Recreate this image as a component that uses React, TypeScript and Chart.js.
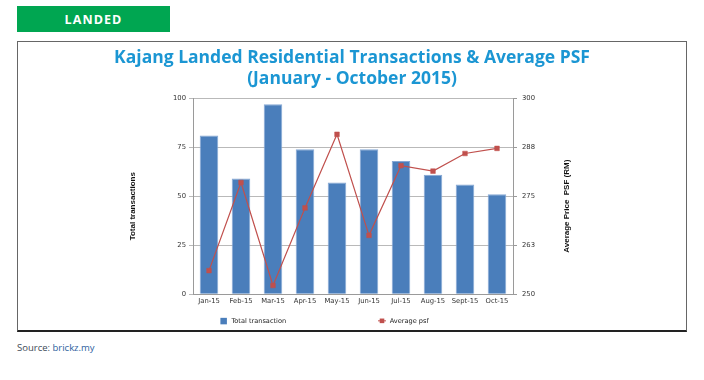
import React, { useEffect, useRef } from 'react';
import { Chart, registerables } from 'chart.js';

Chart.register(...registerables);

const categories = ['Jan-15', 'Feb-15', 'Mar-15', 'Apr-15', 'May-15', 'Jun-15', 'Jul-15', 'Aug-15', 'Sept-15', 'Oct-15'];
const totalTransactions = [81, 59, 97, 74, 57, 74, 68, 61, 56, 51];
const averagePsf = [256.0, 278.5, 252.2, 272.0, 290.8, 265.0, 282.8, 281.4, 285.9, 287.2];
const leftAxisRange = [0, 100, 25];
const rightAxisRange = [250, 300, 12.5];
const titleLines = ['Kajang Landed Residential Transactions & Average PSF', '(January - October 2015)'];
const leftAxisTitle = 'Total transactions';
const rightAxisTitle = 'Average Price  PSF (RM)';
const seriesLabels = ['Total transaction', 'Average psf'];

const BAR_COLOR = '#4a7ebb';
const LINE_COLOR = '#c0504d';
const TICK_FONT = { family: '"DejaVu Sans", Verdana, sans-serif', size: 6.8 };

const overlayPlugin = {
  id: 'overlay',
  afterDraw(chart: any) {
    const { ctx, chartArea } = chart;
    const { left, right, top, bottom } = chartArea;
    const cy = (top + bottom) / 2 + 10;
    ctx.save();
    ctx.fillStyle = '#111';
    ctx.font = 'bold 8px "Liberation Sans", Arial, sans-serif';
    ctx.textAlign = 'center';
    ctx.textBaseline = 'middle';
    ctx.save();
    ctx.translate(left - 60, cy);
    ctx.rotate(-Math.PI / 2);
    ctx.fillText(leftAxisTitle, 0, 0);
    ctx.restore();
    ctx.save();
    ctx.translate(right + 53.5, cy);
    ctx.rotate(-Math.PI / 2);
    ctx.fillText(rightAxisTitle, 0, 0);
    ctx.restore();

    // legend
    const ly = bottom + 26.7;
    const ds = chart.data.datasets;
    ctx.font = '6.6px "DejaVu Sans", Verdana, sans-serif';
    ctx.textAlign = 'left';
    ctx.fillStyle = ds[0].backgroundColor;
    ctx.fillRect(left + 27.4, ly - 3, 6.5, 6.5);
    ctx.fillStyle = '#222';
    ctx.fillText(ds[0].label, left + 38.4, ly + 0.5);
    const mx = left + 189;
    ctx.strokeStyle = ds[1].borderColor;
    ctx.lineWidth = 1;
    ctx.beginPath();
    ctx.moveTo(mx - 4, ly);
    ctx.lineTo(mx + 4, ly);
    ctx.stroke();
    ctx.fillStyle = ds[1].pointBackgroundColor;
    ctx.fillRect(mx - 2.3, ly - 2.3, 4.6, 4.6);
    ctx.fillStyle = '#222';
    ctx.fillText(ds[1].label, left + 196.7, ly + 0.5);
    ctx.restore();
  },
};

function ChartCanvas() {
  const ref = useRef<HTMLCanvasElement | null>(null);
  useEffect(() => {
    if (!ref.current) return;
    const chart = new Chart(ref.current, {
      type: 'bar',
      data: {
        labels: categories,
        datasets: [
          {
            type: 'bar',
            label: seriesLabels[0],
            data: totalTransactions,
            backgroundColor: BAR_COLOR,
            borderColor: '#86a8d4',
            borderWidth: { top: 1, left: 1, right: 1, bottom: 0 },
            barPercentage: 0.58,
            categoryPercentage: 1,
            yAxisID: 'y',
            order: 2,
          },
          {
            type: 'line',
            label: seriesLabels[1],
            data: averagePsf,
            borderColor: LINE_COLOR,
            backgroundColor: LINE_COLOR,
            borderWidth: 1.2,
            pointStyle: 'rect',
            pointRadius: 3.3,
            pointBackgroundColor: LINE_COLOR,
            pointBorderColor: LINE_COLOR,
            pointBorderWidth: 0.5,
            tension: 0,
            yAxisID: 'y1',
            order: 1,
          },
        ] as any,
      },
      options: {
        responsive: false,
        animation: false,
        devicePixelRatio: 1,
        layout: { padding: { top: 0, bottom: 21.7, left: 0, right: 0 } },
        plugins: {
          legend: { display: false },
          tooltip: { enabled: false },
          title: {
            display: true,
            text: titleLines,
            color: '#1b96d3',
            font: { family: '"Open Sans", sans-serif', size: 17.5, weight: 'bold', lineHeight: 1.15 },
            padding: { top: 5.4, bottom: 9.6 },
          },
        },
        scales: {
          x: {
            type: 'category',
            offset: true,
            grid: { display: false, drawTicks: false },
            border: { display: true, color: '#9a9a9a', width: 1 },
            ticks: { font: TICK_FONT, color: '#333', padding: 3, maxRotation: 0, autoSkip: false },
          },
          y: {
            position: 'left',
            min: leftAxisRange[0],
            max: leftAxisRange[1],
            ticks: { stepSize: leftAxisRange[2], font: TICK_FONT, color: '#333', padding: 3 },
            grid: { color: '#b9b9b9', tickLength: 4, lineWidth: 1 },
            border: { display: true, color: '#9a9a9a', width: 1 },
            afterFit: (s: any) => { s.width = 174; },
          },
          y1: {
            position: 'right',
            min: rightAxisRange[0],
            max: rightAxisRange[1],
            ticks: {
              stepSize: rightAxisRange[2],
              font: TICK_FONT,
              color: '#333',
              padding: 5,
              callback: (v: any) => String(Math.round(Number(v))),
            },
            grid: { drawOnChartArea: false, color: '#9a9a9a', tickLength: 4 },
            border: { display: true, color: '#9a9a9a', width: 1 },
            afterFit: (s: any) => { s.width = 172; },
          },
        },
      } as any,
      plugins: [overlayPlugin],
    });
    return () => chart.destroy();
  }, []);
  return <canvas ref={ref} width={666} height={287} style={{ position: 'absolute', left: 19, top: 43, width: 666, height: 287 }} />;
}

export default function App() {
  return (
    <div style={{ position: 'fixed', left: 0, top: 0, width: 704, height: 380, background: '#fff', overflow: 'hidden' }}>
      <div
        style={{
          position: 'absolute', left: 17, top: 6, width: 153, height: 26, background: '#00a651',
          color: '#fff', fontFamily: '"Open Sans", sans-serif', fontWeight: 700, fontSize: 12.5,
          letterSpacing: 1.1, display: 'flex', alignItems: 'center', justifyContent: 'center',
        }}
      >
        LANDED
      </div>
      <div
        style={{
          position: 'absolute', left: 17, top: 41, width: 670, height: 291, boxSizing: 'border-box',
          borderTop: '1.5px solid #666', borderLeft: '1.5px solid #666', borderRight: '1.5px solid #666',
          borderBottom: '2px solid #222',
        }}
      />
      <ChartCanvas />
      <div
        style={{
          position: 'absolute', left: 17, top: 341, fontFamily: '"Open Sans", sans-serif', fontSize: 9.5,
          lineHeight: '14px', color: '#3d4a57', whiteSpace: 'nowrap',
        }}
      >
        Source: <span style={{ color: '#2d5f9e' }}>brickz.my</span>
      </div>
    </div>
  );
}
